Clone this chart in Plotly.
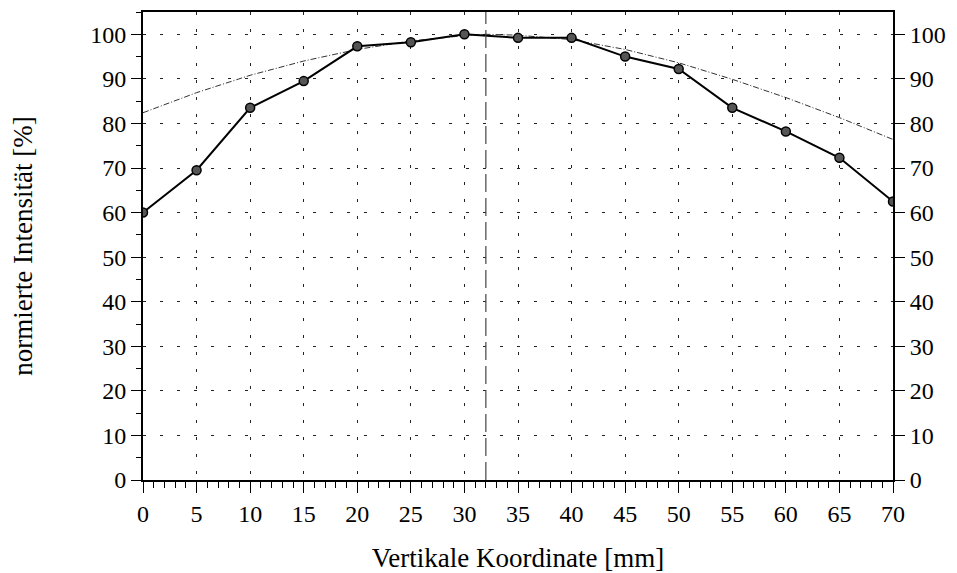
import plotly.graph_objects as go

# ---- data ----
x_mm = [0, 5, 10, 15, 20, 25, 30, 35, 40, 45, 50, 55, 60, 65, 70]
intensity = [60.0, 69.5, 83.5, 89.5, 97.3, 98.2, 100.0, 99.2, 99.2, 95.0, 92.2, 83.5, 78.2, 72.3, 62.5]

fit_x = [0, 5, 10, 15, 20, 25, 30, 32, 35, 40, 45, 50, 55, 60, 65, 70]
fit_y = [82.4, 86.9, 90.8, 94.0, 96.6, 98.5, 99.7, 100.0, 99.8, 98.8, 96.6, 93.6, 89.9, 85.8, 81.3, 76.4]

center_x = 32

x_ticks = list(range(0, 71, 5))
y_ticks = list(range(0, 101, 10))

FONT = "Liberation Serif, Times New Roman, serif"

fig = go.Figure()

fig.add_trace(go.Scatter(
    x=fit_x, y=fit_y, mode="lines",
    line=dict(color="#333", width=1, dash="6px,2px,1px,2px"),
    hoverinfo="skip", showlegend=False))

fig.add_trace(go.Scatter(
    x=x_mm, y=intensity, mode="lines+markers",
    line=dict(color="black", width=2),
    marker=dict(size=9, color="#555", line=dict(color="black", width=1.5)),
    showlegend=False))

# invisible trace to activate the right axis
fig.add_trace(go.Scatter(x=[x_mm[0]], y=[intensity[0]], yaxis="y2",
                         mode="markers", marker=dict(opacity=0),
                         hoverinfo="skip", showlegend=False))

fig.add_shape(type="line", xref="x", yref="paper", x0=center_x, x1=center_x,
              y0=0, y1=1, line=dict(color="#444", width=1.2, dash="18px,6px"))

grid = dict(showgrid=True, gridcolor="#222", gridwidth=1, griddash="3px,14px")

fig.update_layout(
    width=957, height=573,
    margin=dict(l=143, r=64, t=12, b=93, autoexpand=False),
    plot_bgcolor="white", paper_bgcolor="white",
    font=dict(family=FONT, size=24, color="black"),
    xaxis=dict(range=[0, 70], tickvals=x_ticks, ticks="outside", ticklen=11,
               tickwidth=1.2, tickcolor="black", automargin=False,
               minor=dict(dtick=1, ticks="outside", ticklen=6, tickcolor="black", showgrid=False),
               showline=True, linecolor="black", linewidth=2, mirror=True,
               zeroline=False, title=dict(text="Vertikale Koordinate [mm]",
                                          font=dict(size=27), standoff=24),
               **grid),
    yaxis=dict(range=[0, 105], tickvals=y_ticks, ticks="outside", ticklen=10,
               tickwidth=1.2, tickcolor="black", automargin=False,
               minor=dict(dtick=5, ticks="outside", ticklen=5, tickcolor="black", showgrid=False),
               showline=True, linecolor="black", linewidth=2,
               zeroline=False, title=dict(text="normierte Intensität [%]",
                                          font=dict(size=27), standoff=50),
               **grid),
    yaxis2=dict(range=[0, 105], tickvals=y_ticks, overlaying="y", side="right",
                ticks="outside", ticklen=10, tickwidth=1.2, tickcolor="black",
                automargin=False,
                showline=True, linecolor="black", linewidth=2,
                showgrid=False, zeroline=False),
)

fig.write_html("out.html")
